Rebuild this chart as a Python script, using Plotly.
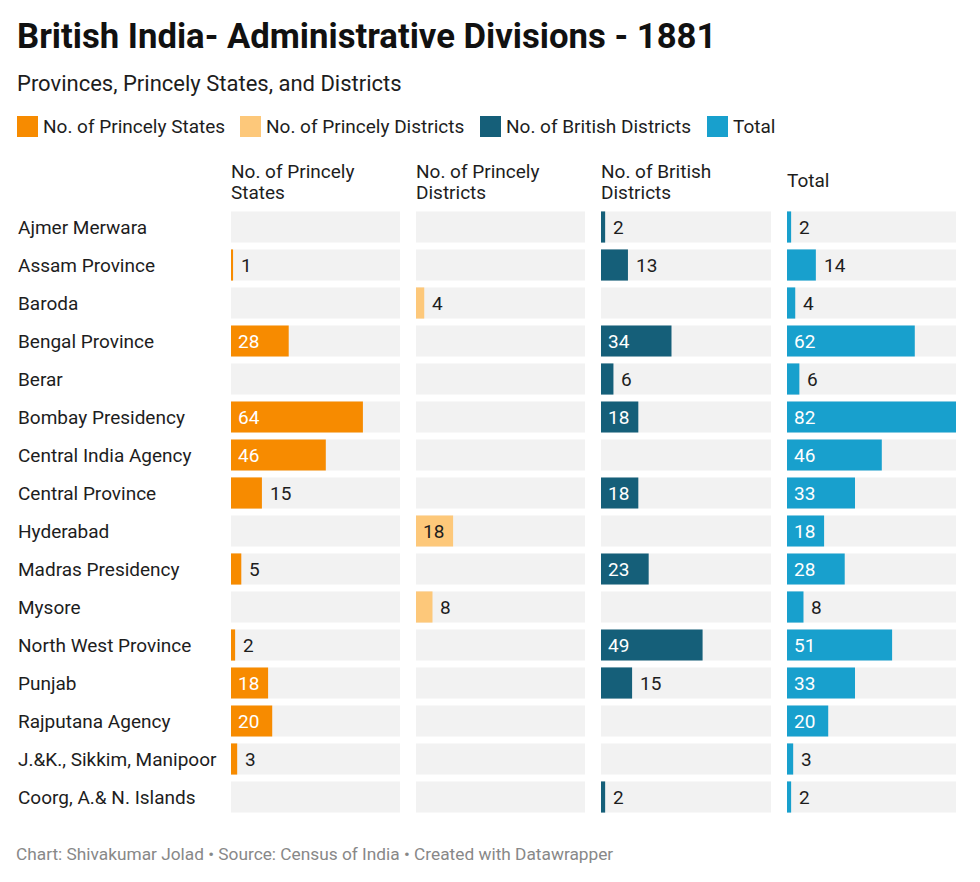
import plotly.graph_objects as go

# page body has an 8px margin, so the figure starts at (8, 8) in the window
OFF = 8
W, H = 980 - OFF, 882 - OFF

regions = ["Ajmer Merwara", "Assam Province", "Baroda", "Bengal Province", "Berar",
           "Bombay Presidency", "Central India Agency", "Central Province", "Hyderabad",
           "Madras Presidency", "Mysore", "North West Province", "Punjab",
           "Rajputana Agency", "J.&K., Sikkim, Manipoor", "Coorg, A.& N. Islands"]

princely_states = [0, 1, 0, 28, 0, 64, 46, 15, 0, 5, 0, 2, 18, 20, 3, 0]
princely_districts = [0, 0, 4, 0, 0, 0, 0, 0, 18, 0, 8, 0, 0, 0, 0, 0]
british_districts = [2, 13, 0, 34, 6, 18, 0, 18, 0, 23, 0, 49, 15, 0, 0, 2]
total = [2, 14, 4, 62, 6, 82, 46, 33, 18, 28, 8, 51, 33, 20, 3, 2]

series_names = ["No. of Princely States", "No. of Princely Districts",
                "No. of British Districts", "Total"]
header_labels = [["No. of Princely", "States"], ["No. of Princely", "Districts"],
                 ["No. of British", "Districts"], ["Total"]]
series_values = [princely_states, princely_districts, british_districts, total]

colors = ["#f78b00", "#fdc87a", "#155f79", "#18a0cd"]
inside_text = ["white", "#1d1d1d", "white", "white"]
FONT = "Roboto"
DARK = "#1d1d1d"

# pixel column positions (left, right) of each small-multiple column
cols_px = [(231, 400), (416, 585), (601, 771), (787, 956)]
row_top, row_bottom = 208, 816

def px_x(p):
    return (p - OFF) / W

def px_y(p):
    return 1 - (p - OFF) / H

xmax = max(total)

fig = go.Figure()
annotations = []
shapes = []

for i, (name, vals) in enumerate(zip(series_names, series_values)):
    xa = "x" if i == 0 else f"x{i + 1}"
    # grey background
    fig.add_trace(go.Bar(y=regions, x=[xmax] * len(regions), orientation="h",
                         marker=dict(color="#f2f2f2", line_width=0), width=0.82,
                         xaxis=xa, yaxis="y", hoverinfo="skip", showlegend=False))
    fig.add_trace(go.Bar(y=regions, x=[v if v else None for v in vals], orientation="h",
                         name=name, marker=dict(color=colors[i], line_width=0), width=0.82,
                         xaxis=xa, yaxis="y", showlegend=False))
    colw = cols_px[i][1] - cols_px[i][0]
    for r, v in zip(regions, vals):
        if not v:
            continue
        inside = v / xmax * colw >= 35
        annotations.append(dict(
            x=0 if inside else v, y=r, xref=xa, yref="y", text=str(v),
            showarrow=False, xanchor="left", yanchor="middle",
            xshift=5 if inside else 6,
            font=dict(family=FONT, size=19, color=inside_text[i] if inside else DARK)))
    # column header (one annotation per line for tighter line spacing)
    lines = header_labels[i]
    ys = [171, 192] if len(lines) == 2 else [181]
    for txt, yy in zip(lines, ys):
        annotations.append(dict(x=px_x(cols_px[i][0] - 2), y=px_y(yy), xref="paper",
                                yref="paper", text=txt, showarrow=False, xanchor="left",
                                yanchor="middle", align="left",
                                font=dict(family=FONT, size=19, color=DARK)))

# row labels
for r in regions:
    annotations.append(dict(x=px_x(16), y=r, xref="paper", yref="y", text=r,
                            showarrow=False, xanchor="left", yanchor="middle",
                            font=dict(family=FONT, size=19, color=DARK)))

# title, subtitle, footer
annotations.append(dict(x=px_x(15), y=px_y(36), xref="paper", yref="paper",
                        text="<b>British India- Administrative Divisions - 1881</b>",
                        showarrow=False, xanchor="left", yanchor="middle",
                        font=dict(family=FONT, size=34.7, color="#111111")))
annotations.append(dict(x=px_x(15), y=px_y(84), xref="paper", yref="paper",
                        text="Provinces, Princely States, and Districts",
                        showarrow=False, xanchor="left", yanchor="middle",
                        font=dict(family=FONT, size=22, color=DARK)))
annotations.append(dict(x=px_x(14), y=px_y(854), xref="paper", yref="paper",
                        text="Chart: Shivakumar Jolad • Source: Census of India • Created with Datawrapper",
                        showarrow=False, xanchor="left", yanchor="middle",
                        font=dict(family=FONT, size=17.3, color="#888888")))

# legend
legend_x = [17, 240, 480, 707]
for i, name in enumerate(series_names):
    x0 = legend_x[i]
    shapes.append(dict(type="rect", xref="paper", yref="paper",
                       x0=px_x(x0), x1=px_x(x0 + 21), y0=px_y(137), y1=px_y(116),
                       fillcolor=colors[i], line_width=0))
    annotations.append(dict(x=px_x(x0 + 24), y=px_y(127), xref="paper", yref="paper",
                            text=name, showarrow=False, xanchor="left", yanchor="middle",
                            font=dict(family=FONT, size=19, color=DARK)))

layout_axes = {}
for i, (a, b) in enumerate(cols_px):
    key = "xaxis" if i == 0 else f"xaxis{i + 1}"
    layout_axes[key] = dict(domain=[px_x(a), px_x(b)], range=[0, xmax], anchor="y",
                            visible=False, fixedrange=True)

fig.update_layout(
    width=W, height=H,
    margin=dict(l=0, r=0, t=0, b=0),
    paper_bgcolor="white", plot_bgcolor="white",
    barmode="overlay",
    yaxis=dict(domain=[px_y(row_bottom), px_y(row_top)], categoryorder="array",
               categoryarray=regions, autorange="reversed", visible=False,
               fixedrange=True),
    annotations=annotations, shapes=shapes,
    font=dict(family=FONT),
    **layout_axes,
)

fig.write_html("out.html")
